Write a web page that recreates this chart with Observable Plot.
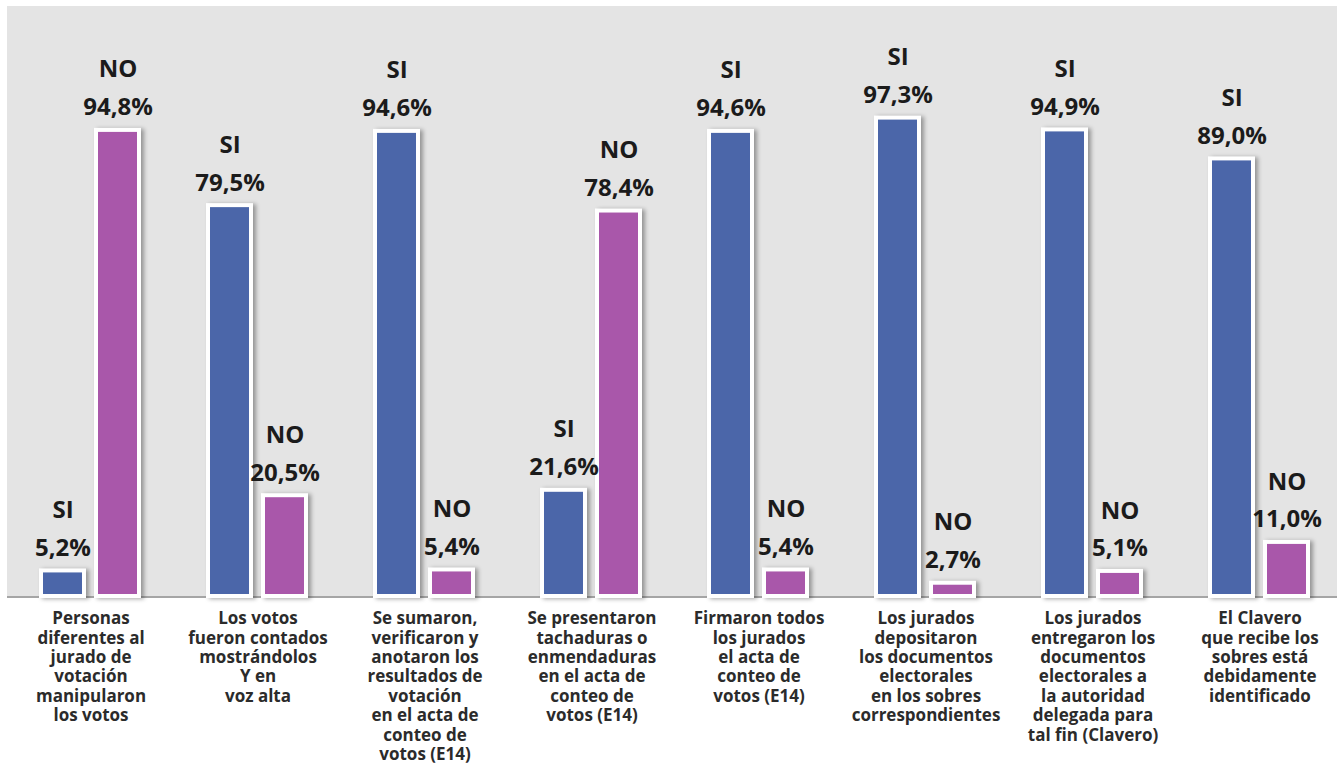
<!DOCTYPE html>
<html><head><meta charset="utf-8">
<script src="https://cdn.jsdelivr.net/npm/d3@7"></script>
<script src="https://cdn.jsdelivr.net/npm/@observablehq/plot@0.6"></script>
<style>
html,body{margin:0;padding:0;background:#fff;overflow:hidden}
#wrap{position:relative;width:1343px;height:763px}
#bg{position:absolute;left:7px;top:6px;width:1330px;height:590px;background:#e4e4e4;border-bottom:2px solid #a5a5a5}
#chart{position:absolute;left:0;top:0}
#chart svg .bars rect{filter:drop-shadow(3px 1px 2px rgba(0,0,0,0.35))}
</style></head>
<body><div id="wrap"><div id="bg"></div><div id="chart"></div></div>
<script>
const categories = [
  "Personas\ndiferentes al\njurado de\nvotación\nmanipularon\nlos votos",
  "Los votos\nfueron contados\nmostrándolos\nY en\nvoz alta",
  "Se sumaron,\nverificaron y\nanotaron los\nresultados de\nvotación\nen el acta de\nconteo de\nvotos (E14)",
  "Se presentaron\ntachaduras o\nenmendaduras\nen el acta de\nconteo de\nvotos (E14)",
  "Firmaron todos\nlos jurados\nel acta de\nconteo de\nvotos (E14)",
  "Los jurados\ndepositaron\nlos documentos\nelectorales\nen los sobres\ncorrespondientes",
  "Los jurados\nentregaron los\ndocumentos\nelectorales a\nla autoridad\ndelegada para\ntal fin (Clavero)",
  "El Clavero\nque recibe los\nsobres está\ndebidamente\nidentificado"
];
const series = ["SI", "NO"];
const siValues = [5.2, 79.5, 94.6, 21.6, 94.6, 97.3, 94.9, 89.0];
const noValues = [94.8, 20.5, 5.4, 78.4, 5.4, 2.7, 5.1, 11.0];
const colors = ["#4b66a9", "#a957aa"];

const rows = [];
categories.forEach((c, i) => {
  rows.push({category: c, series: "SI", value: siValues[i]});
  rows.push({category: c, series: "NO", value: noValues[i]});
});
const fmt = v => v.toFixed(1).replace(".", ",") + "%";

const chart = Plot.plot({
  width: 1343,
  height: 763,
  marginTop: 6,
  marginBottom: 167,
  marginLeft: 7,
  marginRight: 0,
  style: {background: "transparent", fontFamily: "'Open Sans', sans-serif", overflow: "visible"},
  fx: {domain: categories, padding: 0, axis: null},
  x: {domain: series, paddingInner: 0.218, paddingOuter: 0.627, axis: null},
  y: {domain: [0, 120], axis: null},
  color: {domain: series, range: colors},
  marks: [
    Plot.barY(rows, {fx: "category", x: "series", y: "value", fill: "series", stroke: "white", strokeWidth: 4, className: "bars"}),
    Plot.text(rows, {fx: "category", x: "series", y: "value", text: d => `${d.series}\n${fmt(d.value)}`,
      dy: -15, lineAnchor: "bottom", lineHeight: 1.58, fontSize: 24, fontWeight: 700, fill: "#1b1b1b"}),
    Plot.text(categories, {fx: d => d, text: d => d, frameAnchor: "bottom", lineAnchor: "top",
      dy: 14, fontSize: 17, fontWeight: 700, lineHeight: 1.14, fill: "#2b2b2b"})
  ]
});
document.getElementById("chart").appendChild(chart);
</script>
</body></html>
